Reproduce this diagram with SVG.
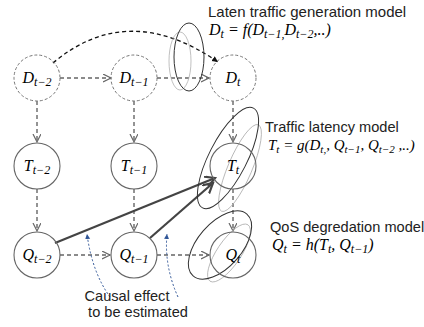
<svg xmlns="http://www.w3.org/2000/svg" width="424" height="327" viewBox="0 0 424 327">
<defs>
<marker id="chev" markerWidth="10" markerHeight="10" refX="8" refY="4" orient="auto" markerUnits="userSpaceOnUse"><path d="M0,0 L8,4 L0,8" fill="none" stroke="#666" stroke-width="1.2"/></marker>
<marker id="chevB" markerWidth="14" markerHeight="14" refX="10" refY="5.5" orient="auto" markerUnits="userSpaceOnUse"><path d="M0,0 L10,5.5 L0,11" fill="none" stroke="#444" stroke-width="2.2"/></marker>
<marker id="tri" markerWidth="8" markerHeight="8" refX="6" refY="3" orient="auto" markerUnits="userSpaceOnUse"><path d="M0,0 L6,3 L0,6 Z" fill="#111"/></marker>
<marker id="triBlue" markerWidth="8" markerHeight="8" refX="5" refY="2.5" orient="auto" markerUnits="userSpaceOnUse"><path d="M0,0 L5,2.5 L0,5 Z" fill="#2f5597"/></marker>
</defs>
<style>
.cd{fill:none;stroke:#777;stroke-width:1;stroke-dasharray:3 2}
.cs{fill:none;stroke:#666;stroke-width:1.1}
.da{fill:none;stroke:#666;stroke-width:1.4;stroke-dasharray:4 3;marker-end:url(#chev)}
.bold{fill:none;stroke:#444;stroke-width:2.2;marker-end:url(#chevB)}
.blue{fill:none;stroke:#2f5597;stroke-width:1;stroke-dasharray:2 2;marker-end:url(#triBlue)}
.eb{fill:none;stroke:#333;stroke-width:1}
.eg{fill:none;stroke:#b0b0b0;stroke-width:0.8}
.m{font-family:"Liberation Serif",serif;font-style:italic;font-size:16px;fill:#000}
.sub{font-size:12px}
.t{font-family:"Liberation Sans",Arial,sans-serif;font-size:14.6px;fill:#222}
</style>
<g id="connectors">
<line class="da" x1="60" y1="78" x2="111" y2="78"/>
<line class="da" x1="157" y1="78" x2="209" y2="78"/>
<line class="da" x1="37" y1="101" x2="37" y2="142"/>
<line class="da" x1="134" y1="101" x2="134" y2="142"/>
<line class="da" x1="233" y1="101" x2="233" y2="142"/>
<line class="da" x1="37" y1="189" x2="37" y2="231"/>
<line class="da" x1="134" y1="189" x2="134" y2="231"/>
<line class="da" x1="233" y1="189" x2="233" y2="231"/>
<line class="da" x1="60" y1="255" x2="110" y2="255"/>
<line class="da" x1="157" y1="255" x2="209" y2="255"/>
<path d="M53,63 Q128,0 218,62" fill="none" stroke="#111" stroke-width="1.3" stroke-dasharray="4 3" marker-end="url(#tri)"/>
<line class="bold" x1="55" y1="243" x2="215" y2="178"/>
<line class="bold" x1="150" y1="238" x2="213" y2="183"/>
<path class="blue" d="M110,297 Q92,272 87,234"/>
<path class="blue" d="M178,297 Q164,266 167,234"/>
</g>
<g id="model-loops">
<ellipse class="eg" cx="180" cy="61" rx="11" ry="29"/>
<ellipse class="eb" cx="189" cy="57" rx="15" ry="34"/>
<ellipse class="eg" cx="240" cy="168" rx="47" ry="12" transform="rotate(-67 240 168)"/>
<ellipse class="eb" cx="228" cy="158" rx="56" ry="19" transform="rotate(-63 228 158)"/>
<ellipse class="eg" cx="229" cy="253" rx="34" ry="12" transform="rotate(-56 229 253)"/>
<ellipse class="eb" cx="220" cy="245" rx="41" ry="22" transform="rotate(-49 220 245)"/>
</g>
<g id="D_t-2"><circle class="cd" cx="37" cy="78" r="23"/><text class="m" x="37" y="83" text-anchor="middle">D<tspan class="sub" dy="3">t−2</tspan></text></g>
<g id="D_t-1"><circle class="cd" cx="134" cy="78" r="23"/><text class="m" x="134" y="83" text-anchor="middle">D<tspan class="sub" dy="3">t−1</tspan></text></g>
<g id="D_t"><circle class="cd" cx="233" cy="78" r="23"/><text class="m" x="233" y="83" text-anchor="middle">D<tspan class="sub" dy="3">t</tspan></text></g>
<g id="T_t-2"><circle class="cs" cx="37" cy="166" r="23"/><text class="m" x="37" y="171" text-anchor="middle">T<tspan class="sub" dy="3">t−2</tspan></text></g>
<g id="T_t-1"><circle class="cs" cx="134" cy="166" r="23"/><text class="m" x="134" y="171" text-anchor="middle">T<tspan class="sub" dy="3">t−1</tspan></text></g>
<g id="T_t"><circle class="cs" cx="233" cy="166" r="23"/><text class="m" x="233" y="171" text-anchor="middle">T<tspan class="sub" dy="3">t</tspan></text></g>
<g id="Q_t-2"><circle class="cs" cx="37" cy="255" r="23"/><text class="m" x="37" y="260" text-anchor="middle">Q<tspan class="sub" dy="3">t−2</tspan></text></g>
<g id="Q_t-1"><circle class="cs" cx="134" cy="255" r="23"/><text class="m" x="134" y="260" text-anchor="middle">Q<tspan class="sub" dy="3">t−1</tspan></text></g>
<g id="Q_t"><circle class="cs" cx="233" cy="255" r="23"/><text class="m" x="233" y="260" text-anchor="middle">Q<tspan class="sub" dy="3">t</tspan></text></g>
<g id="labels">
<text class="t" x="208" y="17" style="font-size:15px">Laten traffic generation model</text>
<text class="m" x="209" y="35">D<tspan class="sub" dy="3">t</tspan><tspan dy="-3"> = f(D</tspan><tspan class="sub" dy="3">t−1,</tspan><tspan dy="-3">D</tspan><tspan class="sub" dy="3">t−2</tspan><tspan dy="-3">,..)</tspan></text>
<text class="t" x="265" y="132">Traffic latency model</text>
<text class="m" x="268" y="150" style="font-size:15px">T<tspan class="sub" dy="3" style="font-size:11px">t</tspan><tspan dy="-3"> = g(D</tspan><tspan class="sub" dy="3" style="font-size:11px">t,</tspan><tspan dy="-3">, Q</tspan><tspan class="sub" dy="3" style="font-size:11px">t−1</tspan><tspan dy="-3">, Q</tspan><tspan class="sub" dy="3" style="font-size:11px">t−2</tspan><tspan dy="-3"> ,..)</tspan></text>
<text class="t" x="270" y="232">QoS degredation model</text>
<text class="m" x="272" y="250">Q<tspan class="sub" dy="3">t</tspan><tspan dy="-3"> = h(T</tspan><tspan class="sub" dy="3">t</tspan><tspan dy="-3">, Q</tspan><tspan class="sub" dy="3">t−1</tspan><tspan dy="-3">)</tspan></text>
<text class="t" x="127" y="301" text-anchor="middle">Causal effect</text>
<text class="t" x="138" y="317" text-anchor="middle">to be estimated</text>
</g>
</svg>
